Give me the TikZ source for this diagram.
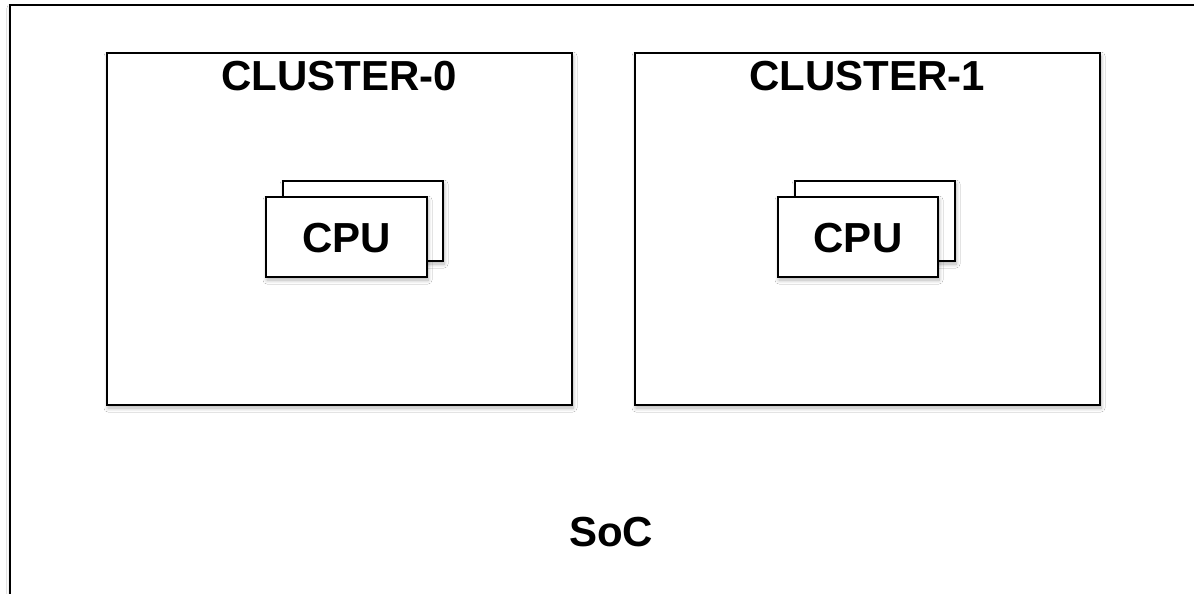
\documentclass[tikz,border=0pt]{standalone}
\usepackage{fontspec}
\setmainfont{Liberation Sans}
\usetikzlibrary{shadows.blur}
\begin{document}
\begin{tikzpicture}[x=1pt,y=-1pt,
  frame/.style={draw=black,line width=1.4pt,fill=white,
    blur shadow={shadow xshift=1pt,shadow yshift=-3pt,shadow blur radius=4pt,
      shadow blur steps=8,shadow opacity=30}},
  lbl/.style={font=\fontsize{42}{42}\selectfont\bfseries,inner sep=0pt}]
\clip (0,0) rectangle (1194,594);
\fill[white] (0,0) rectangle (1194,594);
% SoC outline, running past the page edges
\draw[frame] (10,5) rectangle (1230,640);
% clusters
\draw[frame] (107,53) rectangle (572,405);
\draw[frame] (635,53) rectangle (1100,405);
\node[lbl] (c0) at (339.5,76) {CLUSTER-0};
\node[lbl] (c1) at (867.5,76) {CLUSTER-1};
% stacked CPUs in cluster 0
\draw[frame] (283,181) rectangle (443,261);
\draw[frame] (266,197) rectangle (427,277);
\node[lbl] (cpu0) at (346.5,238) {CPU};
% stacked CPUs in cluster 1
\draw[frame] (795,181) rectangle (955,261);
\draw[frame] (778,197) rectangle (938,277);
\node[lbl] (cpu1) at (858,238) {CPU};
% chip label
\node[lbl] (soc) at (611,532) {SoC};
\end{tikzpicture}
\end{document}
